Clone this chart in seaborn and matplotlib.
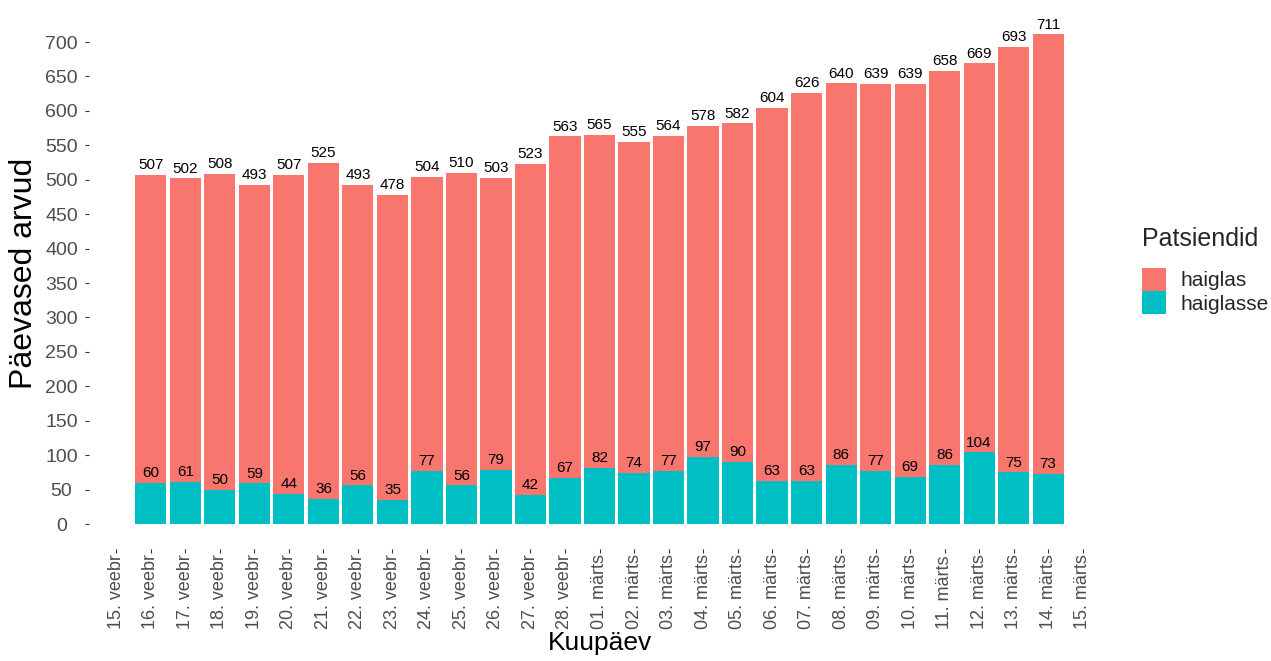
import matplotlib.pyplot as plt
import pandas as pd
import seaborn as sns
from matplotlib.patches import Patch

# andmed graafikult
paevad = [
    "16. veebr", "17. veebr", "18. veebr", "19. veebr", "20. veebr", "21. veebr",
    "22. veebr", "23. veebr", "24. veebr", "25. veebr", "26. veebr", "27. veebr",
    "28. veebr", "01. märts", "02. märts", "03. märts", "04. märts", "05. märts",
    "06. märts", "07. märts", "08. märts", "09. märts", "10. märts", "11. märts",
    "12. märts", "13. märts", "14. märts",
]
tick_sildid = ["15. veebr"] + paevad + ["15. märts"]
haiglas = [507, 502, 508, 493, 507, 525, 493, 478, 504, 510, 503, 523, 563,
           565, 555, 564, 578, 582, 604, 626, 640, 639, 639, 658, 669, 693, 711]
haiglasse = [60, 61, 50, 59, 44, 36, 56, 35, 77, 56, 79, 42, 67,
             82, 74, 77, 97, 90, 63, 63, 86, 77, 69, 86, 104, 75, 73]
seeriad = ["haiglas", "haiglasse"]
varvid = ["#F8766D", "#00BFC4"]

df = pd.DataFrame({
    "Kuupäev": paevad * 2,
    "arv": haiglas + haiglasse,
    "Patsiendid": ["haiglas"] * len(paevad) + ["haiglasse"] * len(paevad),
})

sns.set_theme(style="white")
plt.rcParams["font.family"] = ["Liberation Sans", "DejaVu Sans"]

W, H = 1271, 661
fig = plt.figure(figsize=(W / 100, H / 100), dpi=100)
ax = fig.add_axes([89 / W, 1 - 548.5 / H, (1110 - 89) / W, 538.5 / H])

sns.barplot(
    data=df, x="Kuupäev", y="arv", hue="Patsiendid",
    order=paevad, hue_order=seeriad, palette=varvid, saturation=1,
    dodge=False, errorbar=None, width=0.9, linewidth=0,
    legend=False, ax=ax,
)

# vaartused tulpade kohal
for c in ax.containers:
    ax.bar_label(c, fmt="%d", padding=2, fontsize=11, color="black")

# ggploti moodi laiendus 5%
ymax = max(haiglas)
ax.set_ylim(-0.05 * ymax, ymax * 1.05)
n = len(paevad)
xpad = 0.05 * (n - 1 + 0.9)
ax.set_xlim(-0.45 - xpad, n - 1 + 0.45 + xpad)

ax.set_yticks(range(0, 701, 50))
ax.set_xticks(range(-1, n + 1))
ax.set_xticklabels(tick_sildid)

sns.despine(ax=ax, left=True, bottom=True)
ax.tick_params(axis="both", bottom=True, left=True, length=2.75, width=0.8,
               color="#333333", labelcolor="#4D4D4D")
ax.tick_params(axis="y", labelsize=14, pad=17)
ax.tick_params(axis="x", labelsize=13, pad=55)
plt.setp(ax.get_yticklabels(), ha="center")
plt.setp(ax.get_xticklabels(), rotation=90, ha="center", va="bottom")

ax.set_xlabel("Kuupäev", fontsize=19, color="black")
ax.set_ylabel("Päevased arvud", fontsize=23, color="black")
ax.xaxis.set_label_coords(0.5, -0.153)
ax.yaxis.set_label_coords(-0.064, 0.51)
ax.yaxis.label.set_va("center")

kasitsid = [Patch(facecolor=v, edgecolor="none", label=s) for s, v in zip(seeriad, varvid)]
leg = ax.legend(
    handles=kasitsid, title="Patsiendid", loc="upper left",
    bbox_to_anchor=(1142 / W, 1 - 227 / H), bbox_transform=fig.transFigure,
    frameon=False, fontsize=15, title_fontsize=18,
    handlelength=1.15, handleheight=1.32, labelspacing=0.03, handletextpad=0.72,
    borderpad=0, borderaxespad=0, alignment="left",
)
leg._legend_box.sep = 12

fig.savefig("out.png", dpi=100)
